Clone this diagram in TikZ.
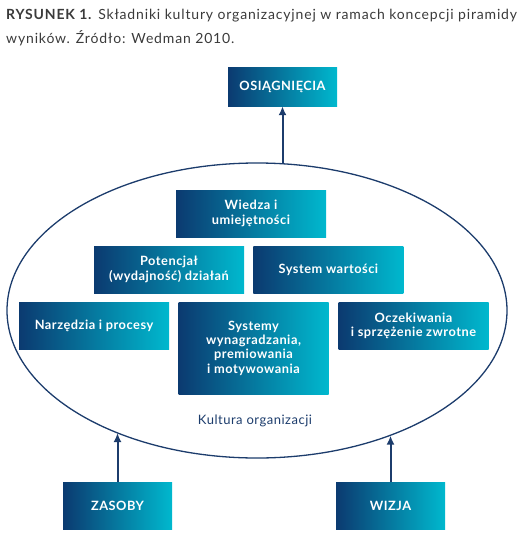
\documentclass[tikz,border=0pt]{standalone}
\usepackage{fontspec}
\setmainfont{Lato}
\usepackage{xcolor}
\usetikzlibrary{arrows.meta,positioning,shapes.geometric}
\definecolor{cultnavy}{HTML}{0B3A70}
\definecolor{cultcyan}{HTML}{00B8CE}
\definecolor{linenavy}{HTML}{1C3C6C}
\definecolor{captiongray}{HTML}{3A3A3A}
\newfontfamily\widelato[LetterSpace=4]{Lato}
\newfontfamily\captionlato[LetterSpace=6]{Lato}

\begin{document}
\begin{tikzpicture}[x=1pt,y=-1pt,
  every node/.style={font=\widelato\fontsize{13}{14.5}\selectfont},
  gradbox/.style={left color=cultnavy,right color=cultcyan,text=white,
    font=\widelato\fontsize{12.8}{14.3}\selectfont\bfseries,align=center,
    minimum width=150pt,minimum height=47pt,inner sep=2pt},
  endbox/.style={gradbox,minimum width=109pt},
  uparrow/.style={draw=linenavy,line width=2pt,-{Latex[length=9pt,width=8pt]}}]
  \useasboundingbox (0,0) rectangle (518,543);
  % caption
  \node[anchor=north west,align=left,text=captiongray,inner sep=0pt,
    font=\captionlato\fontsize{14}{24}\selectfont] (caption) at (6,9)
    {\textbf{RYSUNEK 1.} Składniki kultury organizacyjnej w ramach koncepcji piramidy\\
     wyników. Źródło: Wedman 2010.};
  % culture ellipse
  \node[draw=linenavy,line width=1.3pt,ellipse,minimum width=500pt,
    minimum height=295pt] (culture) at (257,310.5) {};
  \node[endbox,minimum height=39pt] (results) at (282.5,86.5) {OSIĄGNIĘCIA};
  % inner boxes
  \node[gradbox] (knowledge) at (251,213.5) {Wiedza i\\umiejętności};
  \node[gradbox] (potential) at (169,269.5) {Potencjał\\(wydajność) działań};
  \node[gradbox,right=9pt of potential] (values) {System wartości};
  \node[gradbox] (tools) at (94,325.5) {Narzędzia i procesy};
  \node[gradbox,anchor=north,minimum height=92pt] (rewards) at (253.5,302)
    {Systemy\\wynagradzania,\\premiowania\\i motywowania};
  \node[gradbox] (feedback) at (413.5,325.5) {Oczekiwania\\i sprzężenie zwrotne};
  \node[text=linenavy] (culturelabel) at (255,421) {Kultura organizacji};
  % inputs
  \node[endbox] (resources) at (117.5,505.5) {ZASOBY};
  \node[endbox] (vision) at (390.5,505.5) {WIZJA};
  \draw[uparrow] (results.south |- culture.80.3) -- (results.south);
  \draw[uparrow] (resources.north) -- (resources.north |- culture.221.4);
  \draw[uparrow] (vision.north) -- (vision.north |- culture.317.5);
\end{tikzpicture}
\end{document}
